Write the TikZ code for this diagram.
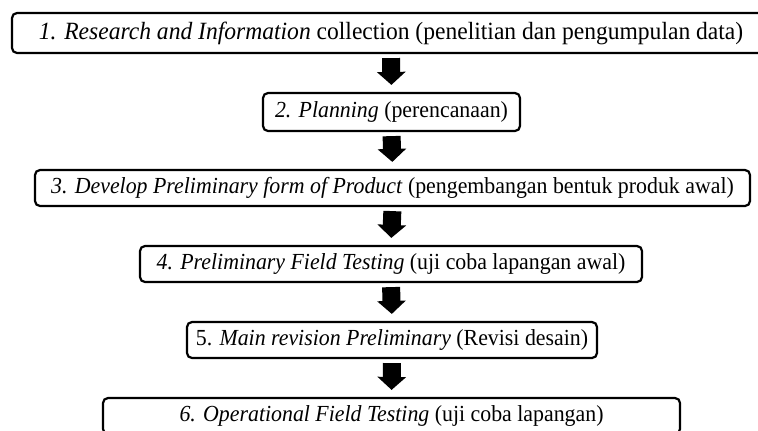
\documentclass[tikz,border=0pt]{standalone}
\usepackage{fontspec}
\setmainfont[FakeStretch=0.95]{Liberation Serif}
\usetikzlibrary{arrows.meta}

\begin{document}
\begin{tikzpicture}[x=0.5pt,y=-0.5pt,
    stage/.style={draw,line width=1.1pt,rounded corners=2.5pt,inner sep=0pt,
        minimum height=18pt,font=\fontsize{11.5}{13}\selectfont},
    flow/.style={line width=9pt,-{Triangle[width=14pt,length=6.5pt]},
        shorten <=2pt,shorten >=3.5pt}]
        \useasboundingbox (0,0) rectangle (758,430);
        \clip (0,0) rectangle (758,430);
        % stages
        \node[stage,minimum width=379pt,minimum height=20pt,font=\fontsize{12.4}{14}\selectfont] (s1) at (391,33)
            {\textit{1. Research and Information} collection (penelitian dan pengumpulan data)};
        \node[stage,minimum width=128.5pt,minimum height=19pt] (s2) at (391.5,112)
            {\textit{2. Planning} (perencanaan)};
        \node[stage,minimum width=357.5pt] (s3) at (392.5,188)
            {\textit{3. Develop Preliminary form of Product} (pengembangan bentuk produk awal)};
        \node[stage,minimum width=251pt] (s4) at (391,264)
            {\textit{4. Preliminary Field Testing} (uji coba lapangan awal)};
        \node[stage,minimum width=205pt] (s5) at (392,340)
            {5. \textit{Main revision Preliminary} (Revisi desain)};
        \node[stage,minimum width=288.5pt] (s6) at (391.5,416)
            {\textit{6. Operational Field Testing} (uji coba lapangan)};
        % arrows
        \foreach \a/\b in {s1/s2,s2/s3,s3/s4,s4/s5,s5/s6}
            \draw[flow] (\a.south) -- (\b.north);
\end{tikzpicture}
\end{document}
